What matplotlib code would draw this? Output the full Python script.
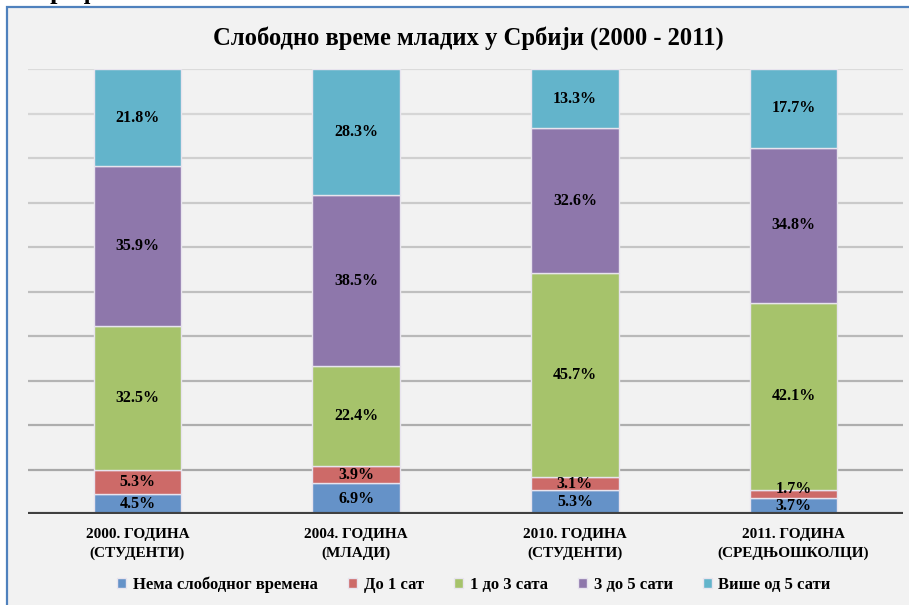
import matplotlib
matplotlib.use("Agg")
import matplotlib.pyplot as plt
from matplotlib.patches import Rectangle
import numpy as np

categories = ["2000. ГОДИНА\n(СТУДЕНТИ)", "2004. ГОДИНА\n(МЛАДИ)",
              "2010. ГОДИНА\n(СТУДЕНТИ)", "2011. ГОДИНА\n(СРЕДЊОШКОЛЦИ)"]
series_names = ["Нема слободног времена", "До 1 сат", "1 до 3 сата",
                "3 до 5 сати", "Више од 5 сати"]
nema = [4.5, 6.9, 5.3, 3.7]
do1 = [5.3, 3.9, 3.1, 1.7]
od1do3 = [32.5, 22.4, 45.7, 42.1]
od3do5 = [35.9, 38.5, 32.6, 34.8]
vise5 = [21.8, 28.3, 13.3, 17.7]
series = [nema, do1, od1do3, od3do5, vise5]
colors = ["#6592c8", "#cd6a68", "#a6c36b", "#8e77ab", "#63b4cb"]

title = "Слободно време младих у Србији (2000 - 2011)"
caption = "Графикон 3."

W, H = 909, 605
fig = plt.figure(figsize=(W / 100, H / 100), dpi=100, facecolor="white")

# chart frame
frame = Rectangle((7.5 / W, -0.05), 1.1, (H - 6.5) / H + 0.05, transform=fig.transFigure,
                  facecolor="#f2f2f2", edgecolor="#4f81bd", linewidth=1.6, zorder=-5)
fig.patches.append(frame)

# caption of the page above the chart, cut off by the crop (only descenders visible)
fig.text(35 / W, 1 + 0.5 / H, caption, family="Liberation Serif", weight="bold",
         fontsize=19, ha="left", va="baseline", color="black", zorder=-4)

left, right, top, bottom = 28, 903, 69, 514
ax = fig.add_axes([left / W, (H - bottom) / H, (right - left) / W, (bottom - top) / H])
ax.set_facecolor("none")
ax.set_zorder(1)
ax.set_xlim(-0.5, 3.5)
ax.set_ylim(0, 100)

# gridlines, slightly darker toward the bottom
levels = np.arange(10, 101, 10)
for lv in levels:
    g = 0.86 - (100 - lv) / 90 * 0.20
    ax.axhline(lv, color=(g, g, g), linewidth=1.6, zorder=0.5)
ax.axhline(0, color="#404040", linewidth=3, zorder=3)

x = np.arange(len(categories))
bottoms = np.zeros(len(categories))
for name, vals, c in zip(series_names, series, colors):
    vals = np.array(vals)
    ax.bar(x, vals, 0.4, bottom=bottoms, color=c, edgecolor="#e8e4ee",
           linewidth=1.0, label=name, zorder=2)
    for xi, b, v in zip(x, bottoms, vals):
        dy = 3.5 if v < 2.5 else 0
        ax.annotate(f"{v:.1f}%", (xi, b + v / 2), xytext=(0, dy), textcoords="offset points",
                    ha="center", va="center",
                    family="Liberation Serif", weight="bold", fontsize=11.5,
                    color="black", zorder=4)
    bottoms += vals

for s in ax.spines.values():
    s.set_visible(False)
ax.set_yticks([])
ax.set_xticks(x)
ax.set_xticklabels(categories, family="Liberation Serif", weight="bold",
                   fontsize=11, linespacing=1.5)
ax.tick_params(axis="x", length=0, pad=10)

fig.text(468.5 / W, 1 - 38 / H, title, family="Liberation Serif",
         weight="bold", fontsize=17.7, ha="center", va="center")

leg = fig.legend(loc="center", bbox_to_anchor=(474 / W, 1 - 585 / H), ncol=5,
                 frameon=False, prop={"family": "Liberation Serif", "weight": "bold", "size": 12},
                 handlelength=0.55, handleheight=0.55, handletextpad=0.4, columnspacing=1.8)

fig.savefig("out.png", dpi=100, facecolor="white")
